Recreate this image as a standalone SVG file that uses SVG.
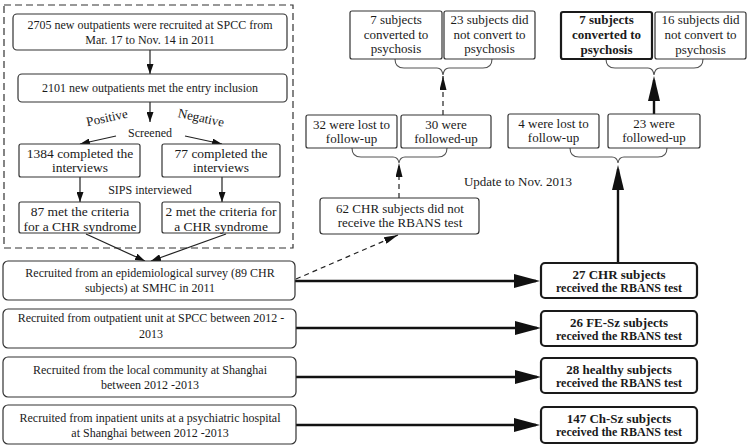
<svg xmlns="http://www.w3.org/2000/svg" width="748" height="446" viewBox="0 0 748 446">
<style>
text{font-family:"Liberation Serif","Times New Roman",serif;fill:#1a1a1a;text-anchor:middle}
.t12{font-size:12px}
.t13{font-size:13px}
.t135{font-size:13.5px}
.b{font-weight:bold}
.box{fill:#fff;stroke:#333;stroke-width:1.2}
.bbox{fill:#fff;stroke:#1a1a1a;stroke-width:2.2}
.thin{stroke:#222;stroke-width:1.2;fill:none}
.dash{stroke:#222;stroke-width:1.2;fill:none;stroke-dasharray:5,4}
.thick{stroke:#111;stroke-width:2.4;fill:none}
.brace{stroke:#555;stroke-width:1.1;fill:none}
</style>
<defs>
<marker id="ah" markerUnits="userSpaceOnUse" markerWidth="26" markerHeight="14" refX="22" refY="7" orient="auto"><path d="M0,0 L26,7 L0,14 z" fill="#111"/></marker>
<marker id="av" markerUnits="userSpaceOnUse" markerWidth="25" markerHeight="12" refX="21" refY="6" orient="auto"><path d="M0,0 L25,6 L0,12 z" fill="#111"/></marker>
<marker id="ad" markerUnits="userSpaceOnUse" markerWidth="14" markerHeight="7" refX="14" refY="3.5" orient="auto"><path d="M0,0 L14,3.5 L0,7 z" fill="#111"/></marker>
<marker id="as" markerUnits="userSpaceOnUse" markerWidth="10" markerHeight="7" refX="10" refY="3.5" orient="auto"><path d="M0,0 L10,3.5 L0,7 z" fill="#111"/></marker>
</defs>

<rect x="4" y="5" width="289" height="243" fill="none" stroke="#333" stroke-width="1.2" stroke-dasharray="7,4"/>

<g id="connectors">
<line class="thin" x1="150" y1="50" x2="150" y2="74" marker-end="url(#as)"/>
<line class="thin" x1="150" y1="102" x2="150" y2="122" marker-end="url(#as)"/>
<line class="thin" x1="116" y1="136" x2="80" y2="144" marker-end="url(#as)"/>
<line class="thin" x1="185" y1="136" x2="222" y2="144" marker-end="url(#as)"/>
<line class="thin" x1="80" y1="177" x2="80" y2="202" marker-end="url(#as)"/>
<line class="thin" x1="222" y1="177" x2="222" y2="202" marker-end="url(#as)"/>
<line class="thin" x1="86" y1="234" x2="145" y2="261" marker-end="url(#as)"/>
<line class="thin" x1="226" y1="234" x2="151" y2="261" marker-end="url(#as)"/>
<line class="dash" x1="296" y1="279" x2="398" y2="235" marker-end="url(#ad)"/>
<line class="dash" x1="399" y1="198" x2="399" y2="163" marker-end="url(#ad)"/>
<line class="dash" x1="443" y1="115" x2="443" y2="76" marker-end="url(#ad)"/>
<line class="thick" x1="618" y1="263" x2="618" y2="169" marker-end="url(#av)"/>
<line class="thick" x1="654" y1="114" x2="654" y2="80" marker-end="url(#av)"/>
<line class="thick" x1="295" y1="281" x2="536" y2="281" marker-end="url(#ah)"/>
<line class="thick" x1="296" y1="328" x2="537" y2="328" marker-end="url(#ah)"/>
<line class="thick" x1="296" y1="377" x2="537" y2="377" marker-end="url(#ah)"/>
<line class="thick" x1="296" y1="425" x2="536" y2="425" marker-end="url(#ah)"/>
<path class="brace" d="M395,59 q0,9 9,9 H437 q5,0 6,7 q1,-7 6,-7 H483 q9,0 9,-9"/>
<path class="brace" d="M352,148 q0,9 9,9 H393 q5,0 6,6 q1,-6 6,-6 H438 q9,0 9,-9"/>
<path class="brace" d="M606,59 q0,9 9,9 H648 q5,0 6,7 q1,-7 6,-7 H694 q9,0 9,-9"/>
<path class="brace" d="M570,148 q0,9 9,9 H612 q5,0 6,6 q1,-6 6,-6 H658 q9,0 9,-9"/>
</g>

<g id="n-recruit2705"><rect class="box" x="13" y="14" width="274" height="36" rx="4"/>
<text class="t12" x="150" y="29">2705 new outpatients were recruited at SPCC from</text>
<text class="t12" x="150" y="44">Mar. 17 to Nov. 14 in  2011</text></g>
<g id="n-entry"><rect class="box" x="18" y="74" width="269" height="28" rx="4"/>
<text class="t12" x="150" y="92">2101 new outpatients met the entry inclusion</text></g>
<text class="t13" x="107" y="122" transform="rotate(-12 107 118)">Positive</text>
<text class="t13" x="201" y="122" transform="rotate(12 201 118)">Negative</text>
<text class="t12" x="150" y="137">Screened</text>
<g id="n-1384"><rect class="box" x="19" y="144" width="121" height="33" rx="2"/>
<text class="t135" x="80" y="158">1384 completed the</text>
<text class="t135" x="80" y="172">interviews</text></g>
<g id="n-77"><rect class="box" x="162" y="144" width="118" height="33" rx="2"/>
<text class="t135" x="221" y="158">77 completed the</text>
<text class="t135" x="221" y="172">interviews</text></g>
<text class="t12" x="150" y="194">SIPS interviewed</text>
<g id="n-87"><rect class="box" x="19" y="202" width="121" height="31" rx="2"/>
<text class="t135" x="80" y="216">87 met the criteria</text>
<text class="t135" x="80" y="231">for a CHR syndrome</text></g>
<g id="n-2"><rect class="box" x="162" y="202" width="118" height="31" rx="2"/>
<text class="t135" x="221" y="216">2 met the criteria for</text>
<text class="t135" x="221" y="231">a CHR syndrome</text></g>

<g id="n-epi"><rect class="box" x="3" y="261" width="292" height="39" rx="5"/>
<text class="t12" x="150" y="277">Recruited from an epidemiological survey (89 CHR</text>
<text class="t12" x="150" y="292">subjects) at SMHC in 2011</text></g>
<g id="n-outpt"><rect class="box" x="3" y="309" width="293" height="39" rx="5"/>
<text class="t12" x="151" y="322">Recruited from outpatient unit at SPCC between 2012 -</text>
<text class="t12" x="151" y="338">2013</text></g>
<g id="n-community"><rect class="box" x="3" y="357" width="293" height="40" rx="5"/>
<text class="t12" x="150" y="374">Recruited from the local community at Shanghai</text>
<text class="t12" x="150" y="389">between 2012 -2013</text></g>
<g id="n-inpt"><rect class="box" x="3" y="405" width="293" height="39" rx="5"/>
<text class="t12" x="150" y="422">Recruited from inpatient units at a psychiatric hospital</text>
<text class="t12" x="150" y="437">at Shanghai between 2012 -2013</text></g>

<g id="n-62"><rect class="box" x="320" y="198" width="159" height="36" rx="3"/>
<text class="t13" x="400" y="213">62 CHR subjects did not</text>
<text class="t13" x="400" y="227">receive the RBANS test</text></g>
<g id="n-lost32"><rect class="box" x="306" y="115" width="91" height="33" rx="2"/>
<text class="t13" x="351.5" y="129">32 were lost to</text>
<text class="t13" x="351.5" y="143">follow-up</text></g>
<g id="n-fu30"><rect class="box" x="401" y="115" width="90" height="33" rx="2"/>
<text class="t13" x="446" y="129">30 were</text>
<text class="t13" x="446" y="143">followed-up</text></g>
<g id="n-conv7a"><rect class="box" x="350" y="11" width="92" height="48" rx="2"/>
<text class="t13" x="396" y="24">7 subjects</text>
<text class="t13" x="396" y="39">converted to</text>
<text class="t13" x="396" y="53">psychosis</text></g>
<g id="n-noconv23"><rect class="box" x="444" y="11" width="91" height="48" rx="2"/>
<text class="t13" x="489.5" y="24">23 subjects did</text>
<text class="t13" x="489.5" y="39">not convert to</text>
<text class="t13" x="489.5" y="53">psychosis</text></g>

<text class="t13" x="518" y="186">Update to Nov. 2013</text>

<g id="n-lost4"><rect class="box" x="508" y="114" width="91" height="34" rx="2"/>
<text class="t13" x="553.5" y="128">4 were lost to</text>
<text class="t13" x="553.5" y="142">follow-up</text></g>
<g id="n-fu23"><rect class="box" x="608" y="114" width="92" height="34" rx="2"/>
<text class="t13" x="654" y="128">23 were</text>
<text class="t13" x="654" y="142">followed-up</text></g>
<g id="n-conv7b"><rect class="bbox" x="561" y="12" width="91" height="47" rx="2"/>
<text class="t13 b" x="606.5" y="24">7 subjects</text>
<text class="t13 b" x="606.5" y="39">converted to</text>
<text class="t13 b" x="606.5" y="54">psychosis</text></g>
<g id="n-noconv16"><rect class="box" x="655" y="12" width="91" height="47" rx="2"/>
<text class="t13" x="700.5" y="24">16 subjects did</text>
<text class="t13" x="700.5" y="39">not convert to</text>
<text class="t13" x="700.5" y="54">psychosis</text></g>

<g id="n-chr27"><rect class="bbox" x="541" y="263" width="156" height="35" rx="4"/>
<text class="t13 b" x="619" y="279">27 CHR subjects</text>
<text class="t12 b" x="619" y="292">received the RBANS test</text></g>
<g id="n-fesz26"><rect class="bbox" x="541" y="311" width="156" height="35" rx="4"/>
<text class="t13 b" x="619" y="327">26 FE-Sz subjects</text>
<text class="t12 b" x="619" y="340">received the RBANS test</text></g>
<g id="n-healthy28"><rect class="bbox" x="541" y="358" width="156" height="35" rx="4"/>
<text class="t13 b" x="619" y="374">28 healthy subjects</text>
<text class="t12 b" x="619" y="387">received the RBANS test</text></g>
<g id="n-chsz147"><rect class="bbox" x="541" y="407" width="156" height="36" rx="4"/>
<text class="t13 b" x="619" y="423">147 Ch-Sz subjects</text>
<text class="t12 b" x="619" y="436">received the RBANS test</text></g>
</svg>
